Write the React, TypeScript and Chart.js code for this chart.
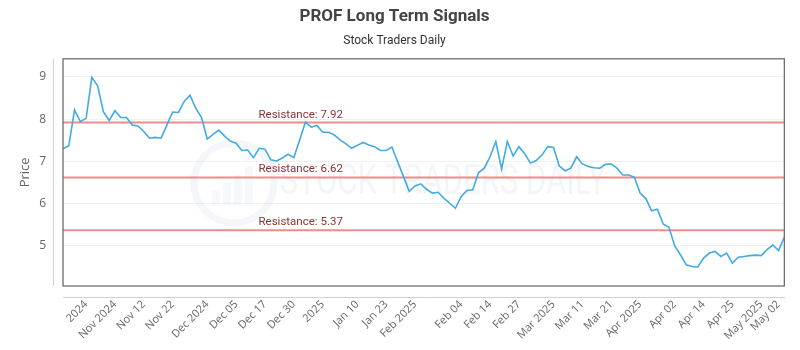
import { useEffect, useRef } from "react";
import { Chart, registerables } from "chart.js";

Chart.register(...registerables);

const chartTitle = "PROF Long Term Signals";
const chartSubtitle = "Stock Traders Daily";
const yAxisTitle = "Price";

const prices = [
  7.3, 7.37, 8.22, 7.94, 8.02, 8.99, 8.79, 8.18, 7.97, 8.2,
  8.04, 8.04, 7.86, 7.84, 7.71, 7.55, 7.57, 7.55, 7.86, 8.17,
  8.16, 8.42, 8.57, 8.26, 8.04, 7.53, 7.64, 7.74, 7.6, 7.48,
  7.43, 7.26, 7.27, 7.09, 7.31, 7.29, 7.04, 7.01, 7.08, 7.17,
  7.09, 7.5, 7.93, 7.81, 7.85, 7.69, 7.69, 7.63, 7.51, 7.42,
  7.31, 7.38, 7.45, 7.39, 7.35, 7.26, 7.26, 7.34, 6.99, 6.64,
  6.29, 6.42, 6.47, 6.34, 6.25, 6.27, 6.13, 6.01, 5.89, 6.17,
  6.31, 6.33, 6.73, 6.84, 7.11, 7.47, 6.82, 7.47, 7.13, 7.35,
  7.18, 6.96, 7.02, 7.15, 7.35, 7.33, 6.89, 6.78, 6.84, 7.11,
  6.94, 6.88, 6.85, 6.84, 6.93, 6.94, 6.84, 6.68, 6.68, 6.63,
  6.25, 6.12, 5.83, 5.87, 5.52, 5.44, 5.0, 4.79, 4.55, 4.51,
  4.5, 4.71, 4.83, 4.87, 4.75, 4.83, 4.59, 4.73, 4.75, 4.77,
  4.78, 4.77, 4.91, 5.02, 4.89, 5.21,
];

const xTickLabels = [
  "2024", "Nov 2024", "Nov 12", "Nov 22", "Dec 2024", "Dec 05", "Dec 17", "Dec 30",
  "2025", "Jan 10", "Jan 23", "Feb 2025", "Feb 04", "Feb 14", "Feb 27", "Mar 2025",
  "Mar 11", "Mar 21", "Apr 2025", "Apr 02", "Apr 14", "Apr 25", "May 2025", "May 02",
];
const xTickIndex = [4, 9, 14, 19, 25, 30, 35, 40, 45, 51, 56, 61, 69, 74, 79, 85, 90, 95, 100, 106, 111, 116, 121, 124];

const yTicks = [5, 6, 7, 8, 9];
const resistanceLevels = [7.92, 6.62, 5.37];
const yMin = 4.05;
const yMax = 9.43;

const categoryLabels = prices.map((_, i) => {
  const k = xTickIndex.indexOf(i);
  return k >= 0 ? xTickLabels[k] : "";
});

const overlayPlugin = {
  id: "overlay",
  beforeDatasetsDraw(chart: any) {
    const { ctx, chartArea: a, scales } = chart;
    const y = scales.y;
    const w = a.right - a.left;
    ctx.save();
    ctx.beginPath();
    ctx.rect(a.left, a.top, w, a.bottom - a.top);
    ctx.clip();

    // watermark
    const cx = a.left + w * 0.237;
    const cy = 183;
    ctx.strokeStyle = "rgba(185,200,222,0.16)";
    ctx.lineWidth = 7;
    ctx.beginPath();
    ctx.arc(cx, cy, 40, 0, Math.PI * 2);
    ctx.stroke();
    ctx.fillStyle = "rgba(185,200,222,0.13)";
    const bars = [14, 22, 30, 38];
    bars.forEach((h, i) => {
      ctx.fillRect(cx - 22 + i * 11, cy + 22 - h, 8, h);
    });
    ctx.font = "42px Roboto";
    ctx.textBaseline = "middle";
    const txt = "STOCK TRADERS DAILY";
    const tw = ctx.measureText(txt).width;
    ctx.save();
    ctx.translate(a.left + w * 0.3, cy);
    ctx.scale(327 / tw, 1);
    ctx.fillStyle = "rgba(190,200,215,0.18)";
    ctx.textAlign = "left";
    ctx.fillText(txt, 0, 0);
    ctx.restore();

    // resistance lines
    resistanceLevels.forEach((v) => {
      const py = y.getPixelForValue(v);
      ctx.strokeStyle = "rgba(236,128,128,0.9)";
      ctx.lineWidth = 2;
      ctx.beginPath();
      ctx.moveTo(a.left, py);
      ctx.lineTo(a.right, py);
      ctx.stroke();
      ctx.fillStyle = "#8c3434";
      ctx.font = "11.5px Roboto";
      ctx.textAlign = "left";
      ctx.textBaseline = "alphabetic";
      ctx.fillText(`Resistance: ${v.toFixed(2)}`, a.left + w * 0.271, py - 5);
    });
    ctx.restore();
  },
  afterDraw(chart: any) {
    const { ctx, chartArea: a } = chart;
    ctx.save();
    ctx.strokeStyle = "#d0d0d0";
    ctx.lineWidth = 1;
    ctx.beginPath();
    ctx.moveTo(a.left - 9.5, a.top);
    ctx.lineTo(a.left - 9.5, a.bottom);
    ctx.moveTo(a.left, a.bottom + 11.5);
    ctx.lineTo(a.right + 1, a.bottom + 11.5);
    ctx.stroke();
    ctx.strokeStyle = "#6e6e6e";
    ctx.lineWidth = 1.3;
    ctx.strokeRect(a.left, a.top, a.right - a.left, a.bottom - a.top);
    ctx.restore();
  },
};

export default function App() {
  const ref = useRef<HTMLCanvasElement | null>(null);
  useEffect(() => {
    if (!ref.current) return;
    const chart = new Chart(ref.current, {
      type: "line",
      data: {
        labels: categoryLabels,
        datasets: [
          {
            data: prices,
            borderColor: "#42abe2",
            borderWidth: 1.6,
            pointRadius: 0,
            tension: 0,
            fill: false,
          },
        ],
      },
      options: {
        animation: false,
        responsive: false,
        maintainAspectRatio: false,
        layout: { padding: { left: 0, right: 11, top: 0, bottom: 0 } },
        plugins: {
          legend: { display: false },
          tooltip: { enabled: false },
          title: {
            display: true,
            text: chartTitle,
            color: "#444",
            font: { family: "Roboto", size: 17, weight: "bold" },
            padding: { top: 7, bottom: 4 },
          },
          subtitle: {
            display: true,
            text: chartSubtitle,
            color: "#333",
            font: { family: "Roboto", size: 12 },
            padding: { top: 2, bottom: 11 },
          },
        },
        scales: {
          x: {
            type: "category",
            grid: { display: false, drawTicks: false },
            border: { display: false },
            ticks: {
              autoSkip: false,
              minRotation: 45,
              maxRotation: 45,
              padding: 12,
              color: "#666",
              font: { family: "Open Sans", size: 11 },
              callback: (_v: any, i: number) => (categoryLabels[i] ? categoryLabels[i] : null),
            },
            afterFit: (s: any) => {
              s.height = 64;
            },
          },
          y: {
            type: "linear",
            min: yMin,
            max: yMax,
            grid: { color: "rgba(0,0,0,0.06)", drawTicks: false },
            border: { display: false },
            afterBuildTicks: (s: any) => {
              s.ticks = yTicks.map((v) => ({ value: v }));
            },
            ticks: {
              padding: 17,
              color: "#666",
              font: { family: "Open Sans", size: 12 },
            },
            title: {
              display: true,
              text: yAxisTitle,
              color: "#666",
              font: { family: "Open Sans", size: 13 },
              padding: { top: 17, bottom: 0 },
            },
            afterFit: (s: any) => {
              s.width = 63;
            },
          },
        },
      },
      plugins: [overlayPlugin],
    } as any);
    return () => chart.destroy();
  }, []);
  return (
    <div style={{ position: "fixed", left: 0, top: 0, width: 800, height: 350, background: "#fff" }}>
      <canvas ref={ref} width={800} height={350} style={{ width: 800, height: 350 }} />
    </div>
  );
}
